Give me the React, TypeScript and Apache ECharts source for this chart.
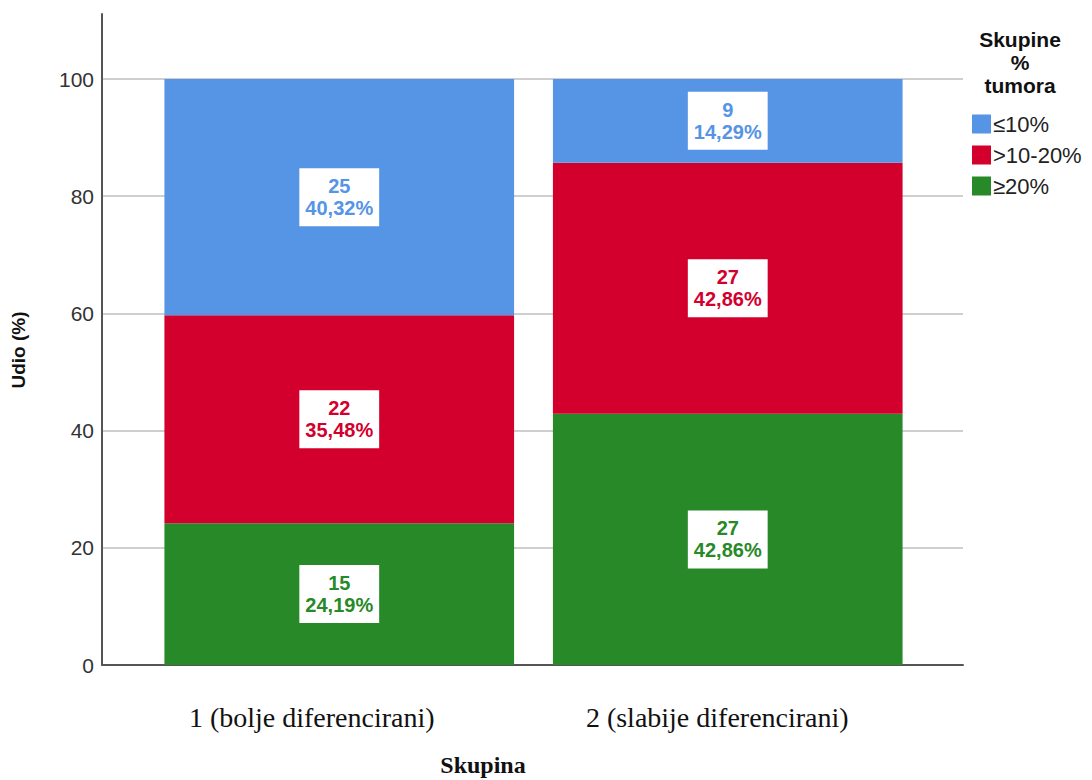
import React, { useEffect, useRef } from "react";
import * as echarts from "echarts";

const categories = ["1 (bolje diferencirani)", "2 (slabije diferencirani)"];
const seriesNames = ["≥20%", ">10-20%", "≤10%"];
const legendOrder = ["≤10%", ">10-20%", "≥20%"];
const seriesColors = ["#288928", "#D3002E", "#5694E5"];

const countsGe20 = [15, 27];
const counts10to20 = [22, 27];
const countsLe10 = [25, 9];

const pctGe20 = [24.19, 42.86];
const pct10to20 = [35.48, 42.86];
const pctLe10 = [40.32, 14.29];

const yTicksInterval = 20;

const seriesCounts = [countsGe20, counts10to20, countsLe10];
const seriesPcts = [pctGe20, pct10to20, pctLe10];

const SANS = "'Liberation Sans', Arial, sans-serif";
const SERIF = "'Liberation Serif', 'Times New Roman', serif";

export default function App() {
  const ref = useRef<HTMLDivElement>(null);

  useEffect(() => {
    document.body.style.margin = "0";
    if (!ref.current) return;
    const chart = echarts.init(ref.current, undefined, { renderer: "svg" });

    const L = 102;
    const R = 1092 - 963;
    const B = 780 - 665;

    const option: any = {
      animation: false,
      backgroundColor: "#ffffff",
      grid: [
        { left: L, right: R, top: 14, bottom: B },
        { left: L, right: R, top: 79, bottom: B },
        { left: 145, right: 1092 - 922, top: 79, bottom: B },
        { left: 109, width: 811, top: 79, bottom: B },
      ],
      xAxis: [
        {
          gridIndex: 0,
          type: "category",
          data: categories,
          axisLine: { show: true, lineStyle: { color: "#555", width: 2 } },
          axisTick: { show: false },
          axisLabel: { show: false },
          splitLine: { show: false },
        },
        {
          gridIndex: 1,
          type: "category",
          data: categories,
          show: false,
        },
        {
          gridIndex: 2,
          type: "category",
          data: categories,
          show: false,
        },
        {
          gridIndex: 3,
          type: "category",
          data: categories,
          axisLine: { show: false },
          axisTick: { show: false },
          axisLabel: {
            show: true,
            margin: 38,
            fontFamily: SERIF,
            fontSize: 28,
            lineHeight: 28,
            color: "#111",
          },
        },
      ],
      yAxis: [
        {
          gridIndex: 0,
          type: "value",
          min: 0,
          max: 111,
          axisLine: { show: true, lineStyle: { color: "#555", width: 2 } },
          axisTick: { show: false },
          axisLabel: { show: false },
          splitLine: { show: false },
        },
        {
          gridIndex: 1,
          type: "value",
          min: 0,
          max: 100,
          interval: yTicksInterval,
          axisLine: { show: false },
          axisTick: { show: false },
          axisLabel: {
            show: true,
            margin: 8,
            fontFamily: SANS,
            fontSize: 21,
            color: "#333",
          },
          splitLine: {
            show: true,
            lineStyle: { color: "#cfcfcf", width: 2 },
          },
        },
        {
          gridIndex: 2,
          type: "value",
          min: 0,
          max: 100,
          show: false,
        },
        {
          gridIndex: 3,
          type: "value",
          min: 0,
          max: 100,
          show: false,
        },
      ],
      legend: {
        orient: "vertical",
        left: 972,
        top: 113,
        padding: 0,
        itemWidth: 19,
        itemHeight: 19,
        itemGap: 9,
        icon: "rect",
        data: legendOrder,
        selectedMode: false,
        textStyle: {
          fontFamily: SANS,
          fontSize: 22,
          lineHeight: 19,
          color: "#222",
          padding: [0, 0, 0, -3],
        },
      },
      graphic: [
        {
          type: "text",
          x: 1020,
          y: 28,
          style: {
            text: "Skupine\n%\ntumora",
            textAlign: "center",
            fontFamily: SANS,
            fontSize: 21,
            fontWeight: "bold",
            lineHeight: 23,
            fill: "#111",
          },
        },
        {
          type: "text",
          x: 18,
          y: 350,
          rotation: Math.PI / 2,
          style: {
            text: "Udio (%)",
            textAlign: "center",
            textVerticalAlign: "middle",
            fontFamily: SANS,
            fontSize: 19,
            fontWeight: "bold",
            fill: "#111",
          },
        },
        {
          type: "text",
          x: 483,
          y: 765,
          style: {
            text: "Skupina",
            textAlign: "center",
            textVerticalAlign: "middle",
            fontFamily: SERIF,
            fontSize: 24,
            fontWeight: "bold",
            fill: "#111",
          },
        },
      ],
      series: seriesNames.map((name, si) => ({
        name,
        type: "bar",
        stack: "total",
        xAxisIndex: 2,
        yAxisIndex: 2,
        barWidth: "90%",
        itemStyle: { color: seriesColors[si] },
        data: seriesPcts[si],
        label: {
          show: true,
          position: "inside",
          formatter: (p: any) =>
            `${seriesCounts[si][p.dataIndex]}\n${seriesPcts[si][p.dataIndex]
              .toFixed(2)
              .replace(".", ",")}%`,
          backgroundColor: "#ffffff",
          padding: [7, 6],
          fontFamily: SANS,
          fontSize: 20,
          fontWeight: "bold",
          lineHeight: 22,
          color: seriesColors[si],
          align: "center",
        },
      })),
    };

    chart.setOption(option);
    return () => chart.dispose();
  }, []);

  return <div ref={ref} style={{ width: 1092, height: 780 }} />;
}
